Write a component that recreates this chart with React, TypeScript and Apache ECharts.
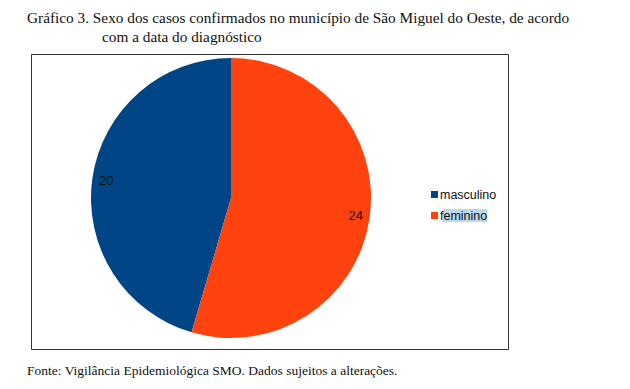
import React, { useEffect, useRef } from "react";
import * as echarts from "echarts";

const categories = ["masculino", "feminino"];
const values = [20, 24];
const colors = ["#004586", "#ff420e"];
const titleLine1 = "Gráfico 3. Sexo dos casos confirmados no município de São Miguel do Oeste, de acordo";
const titleLine2 = "com a data do diagnóstico";
const footer = "Fonte: Vigilância Epidemiológica SMO. Dados sujeitos a alterações.";

export default function App() {
  const ref = useRef<HTMLDivElement>(null);
  useEffect(() => {
    if (!ref.current) return;
    const chart = echarts.init(ref.current, null, { renderer: "svg" });
    const data = categories.map((n, i) => ({ name: n, value: values[i], itemStyle: { color: colors[i] } }));
    const serif = { fontFamily: "Liberation Serif", fontWeight: "normal", color: "#111" };
    chart.setOption({
      animation: false,
      backgroundColor: "#ffffff",
      title: [
        { text: titleLine1, left: 27, top: 10, padding: 0, textStyle: { ...serif, fontSize: 15.3 } },
        { text: titleLine2, left: 102, top: 29, padding: 0, textStyle: { ...serif, fontSize: 15.3 } },
        { text: footer, left: 27, top: 363, padding: 0, textStyle: { ...serif, fontSize: 13.5 } },
      ],
      graphic: [
        { type: "rect", shape: { x: 31.5, y: 54.5, width: 477, height: 295 }, style: { fill: "none", stroke: "#333", lineWidth: 1 }, z: -1 },
      ],
      legend: {
        orient: "vertical",
        left: 426,
        top: 183,
        itemWidth: 7,
        itemHeight: 7,
        itemGap: 8,
        icon: "rect",
        textStyle: { fontFamily: "Liberation Sans", fontSize: 12.5, color: "#111", padding: [0, 0, 0, -3] },
        data: [
          { name: "masculino" },
          { name: "feminino", textStyle: { backgroundColor: "#b9d7f0" } },
        ],
      },
      series: [
        {
          type: "pie",
          center: [231, 198],
          radius: [0, 140],
          startAngle: 90,
          clockwise: false,
          label: { show: false },
          labelLine: { show: false },
          data,
        },
        {
          type: "pie",
          center: [231, 198],
          radius: [0, 246],
          startAngle: 90,
          clockwise: false,
          silent: true,
          itemStyle: { color: "transparent", borderWidth: 0 },
          label: { show: true, position: "inside", formatter: "{c}", fontFamily: "Liberation Sans", fontSize: 13, color: "#111" },
          labelLine: { show: false },
          data: categories.map((n, i) => ({ name: n, value: values[i], itemStyle: { color: "transparent" } })),
          z: 3,
        },
      ],
    });
    return () => chart.dispose();
  }, []);
  return <div ref={ref} style={{ position: "fixed", left: 0, top: 0, width: 630, height: 389 }} />;
}
